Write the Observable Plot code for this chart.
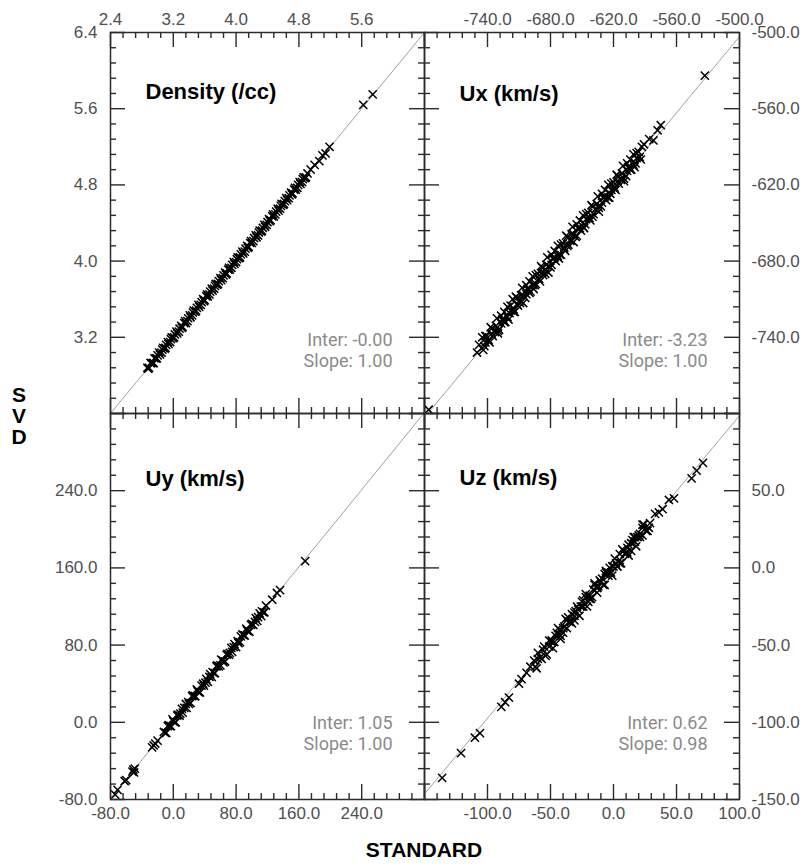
<!DOCTYPE html>
<html>
<head>
<meta charset="utf-8">
<script src="https://cdn.jsdelivr.net/npm/d3@7"></script>
<script src="https://cdn.jsdelivr.net/npm/@observablehq/plot@0.6"></script>
<style>
  body { margin: 0; background: #fff; }
  #wrap { position: relative; width: 804px; height: 865px; overflow: hidden; background: #fff;
          font-family: "Liberation Sans", Arial, Helvetica, sans-serif; }
  #wrap svg { position: absolute; background: transparent !important; overflow: visible; }
  #svd { position: absolute; left: 7px; top: 384px; width: 24px; text-align: center;
         font-weight: bold; font-size: 21px; line-height: 21px; color: #000; }
  #std { position: absolute; left: 324px; top: 839px; width: 200px; text-align: center;
         font-weight: bold; font-size: 21px; line-height: 22px; color: #000; }
</style>
</head>
<body>
<div id="wrap">
  <div id="svd">S<br>V<br>D</div>
  <div id="std">STANDARD</div>
</div>
<script>
// ---------- tick values per panel ----------
const densTicks = [2.4, 3.2, 4.0, 4.8, 5.6, 6.4];
const uxTicks   = [-800, -740, -680, -620, -560, -500];
const uyTicks   = [-80, 0, 80, 160, 240, 320];
const uzTicks   = [-150, -100, -50, 0, 50, 100];

// ---------- panel annotations ----------
const titles = ["Density (/cc)", "Ux (km/s)", "Uy (km/s)", "Uz (km/s)"];
const intercepts = [-0.00, -3.23, 1.05, 0.62];
const slopes = [1.00, 1.00, 1.00, 0.98];
const interLabels = ["Inter: -0.00", "Inter: -3.23", "Inter: 1.05", "Inter: 0.62"];
const slopeLabels = ["Slope: 1.00", "Slope: 1.00", "Slope: 1.00", "Slope: 0.98"];

// ---------- Density: STANDARD vs SVD ----------
const densStd = [
  2.87, 2.89, 2.92, 2.95, 2.98, 3.00, 3.03, 3.06, 3.09, 3.11,
  3.14, 3.17, 3.20, 3.22, 3.25, 3.28, 3.31, 3.34, 3.36, 3.39,
  3.42, 3.45, 3.48, 3.50, 3.53, 3.56, 3.59, 3.62, 3.64, 3.67,
  3.70, 3.73, 3.76, 3.78, 3.81, 3.84, 3.87, 3.90, 3.92, 3.95,
  3.98, 4.01, 4.04, 4.06, 4.09, 4.12, 4.15, 4.18, 4.20, 4.23,
  4.26, 4.29, 4.32, 4.34, 4.37, 4.40, 4.43, 4.46, 4.48, 4.51,
  4.54, 4.57, 4.60, 4.62, 4.65, 4.68, 4.71, 4.74, 4.76, 4.79,
  4.82, 4.85, 4.88, 4.91,
  4.95, 5.00, 5.06, 5.10, 5.14, 5.19, 5.62, 5.74];
const densSvd = [
  2.88, 2.88, 2.93, 2.93, 2.98, 3.01, 3.02, 3.07, 3.08, 3.12,
  3.13, 3.18, 3.19, 3.23, 3.24, 3.29, 3.30, 3.35, 3.35, 3.40,
  3.41, 3.46, 3.47, 3.51, 3.52, 3.57, 3.58, 3.63, 3.63, 3.68,
  3.69, 3.74, 3.75, 3.79, 3.80, 3.85, 3.86, 3.91, 3.91, 3.96,
  3.97, 4.02, 4.03, 4.07, 4.08, 4.13, 4.14, 4.19, 4.19, 4.24,
  4.25, 4.30, 4.31, 4.35, 4.36, 4.41, 4.42, 4.47, 4.47, 4.52,
  4.53, 4.58, 4.59, 4.63, 4.64, 4.69, 4.70, 4.75, 4.75, 4.80,
  4.81, 4.86, 4.87, 4.92,
  4.96, 5.01, 5.05, 5.11, 5.13, 5.20, 5.64, 5.75];
const densStd2 = [
  2.88, 2.91, 2.94, 2.96, 2.99, 3.02, 3.05, 3.07, 3.10, 3.13,
  3.16, 3.18, 3.21, 3.24, 3.27, 3.30, 3.32, 3.35, 3.38, 3.41,
  3.44, 3.46, 3.49, 3.52, 3.55, 3.58, 3.60, 3.63, 3.66, 3.69,
  3.72, 3.74, 3.77, 3.80, 3.83, 3.86, 3.88, 3.91, 3.94, 3.97,
  4.00, 4.02, 4.05, 4.08, 4.11, 4.14, 4.16, 4.19, 4.22, 4.25,
  4.28, 4.30, 4.33, 4.36, 4.39, 4.42, 4.44, 4.47, 4.50, 4.53,
  4.56, 4.58, 4.61, 4.64, 4.67, 4.70, 4.72, 4.75, 4.78, 4.81,
  4.84, 4.86, 4.89];
const densSvd2 = [
  2.87, 2.93, 2.93, 2.98, 2.98, 3.04, 3.04, 3.09, 3.09, 3.15,
  3.15, 3.20, 3.20, 3.26, 3.26, 3.32, 3.31, 3.37, 3.37, 3.43,
  3.43, 3.48, 3.48, 3.54, 3.54, 3.60, 3.59, 3.65, 3.65, 3.71,
  3.71, 3.76, 3.76, 3.82, 3.82, 3.88, 3.87, 3.93, 3.93, 3.99,
  3.99, 4.04, 4.04, 4.10, 4.10, 4.16, 4.15, 4.21, 4.21, 4.27,
  4.27, 4.32, 4.32, 4.38, 4.38, 4.44, 4.43, 4.49, 4.49, 4.55,
  4.55, 4.60, 4.60, 4.66, 4.66, 4.72, 4.71, 4.77, 4.77, 4.83,
  4.83, 4.88, 4.88];

// ---------- Ux ----------
const uxStd = [
  -745, -743, -741, -738, -736, -733, -731, -729, -726, -724,
  -721, -719, -716, -714, -712, -709, -707, -704, -702, -700,
  -697, -695, -692, -690, -688, -685, -683, -680, -678, -676,
  -673, -671, -668, -666, -664, -661, -659, -656, -654, -652,
  -649, -647, -644, -642, -640, -637, -635, -632, -630, -628,
  -625, -623, -620, -618, -616, -613, -611, -608, -606, -604,
  -601, -599, -596, -594, -591,
  -796, -750, -748, -586, -582, -578, -575, -533];
const uxSvd = [
  -740, -747, -739, -744, -733, -735, -725, -734, -726, -720,
  -716, -721, -710, -720, -709, -711, -701, -709, -702, -696,
  -692, -699, -690, -696, -685, -687, -677, -685, -678, -672,
  -668, -675, -666, -672, -661, -663, -653, -661, -654, -648,
  -644, -651, -642, -648, -637, -639, -629, -637, -630, -624,
  -620, -627, -618, -624, -613, -615, -605, -613, -606, -600,
  -596, -603, -594, -600, -588,
  -797, -752, -746, -584, -585, -577, -573, -534];
const uxStd2 = [
  -744, -742, -739, -737, -735, -732, -730, -727, -725, -723,
  -720, -718, -715, -713, -711, -708, -706, -703, -701, -699,
  -696, -694, -691, -689, -687, -684, -682, -679, -677, -675,
  -672, -670, -667, -665, -663, -660, -658, -655, -653, -651,
  -648, -646, -643, -641, -639, -636, -634, -631, -629, -627,
  -624, -622, -619, -617, -615, -612, -610, -607, -605, -603,
  -600, -598, -595, -593];
const uxSvd2 = [
  -750, -739, -742, -732, -739, -731, -737, -723, -726, -728,
  -726, -715, -718, -708, -715, -707, -713, -699, -702, -704,
  -702, -691, -694, -684, -691, -683, -689, -675, -678, -680,
  -678, -667, -670, -660, -667, -659, -665, -651, -654, -656,
  -654, -643, -646, -636, -643, -635, -641, -627, -630, -632,
  -630, -619, -622, -612, -619, -611, -617, -603, -606, -608,
  -606, -595, -598, -590];
const uxStd3 = [
  -742, -739, -736, -733, -730, -727, -724, -721, -718, -715,
  -712, -709, -706, -703, -700, -697, -694, -691, -688, -685,
  -682, -679, -676, -673, -670, -667, -664, -661, -658, -655,
  -652, -649, -646, -643, -640, -637, -634, -631, -628, -625,
  -622, -619, -616, -613, -610, -607, -604, -601, -598];
const uxSvd3 = [
  -744, -743, -737, -736, -735, -729, -728, -724, -719, -720,
  -714, -713, -707, -706, -705, -699, -698, -694, -689, -690,
  -684, -683, -677, -676, -675, -669, -668, -664, -659, -660,
  -654, -653, -647, -646, -645, -639, -638, -634, -629, -630,
  -624, -623, -617, -616, -615, -609, -608, -604, -599];

// ---------- Uy ----------
const uyStd = [
  -12, -9, -6, -3, 0, 3, 6, 9, 12, 16,
  19, 22, 25, 28, 31, 34, 38, 41, 44, 47,
  50, 53, 56, 60, 63, 66, 69, 72, 75, 78,
  82, 85, 88, 91, 94, 97, 100, 104, 107, 110,
  113, 116, 118,
  -74, -71, -62, -60, -52, -51, -50, -49, -27, -25, -23, -20, 126, 132, 136, 168];
const uySvd = [
  -10, -11, -3, -4, 1, 0, 8, 9, 10, 19,
  21, 20, 28, 27, 32, 31, 40, 41, 42, 50,
  52, 51, 59, 59, 64, 63, 71, 72, 73, 81,
  84, 83, 91, 90, 95, 94, 102, 104, 105, 113,
  115, 114, 121,
  -75, -70, -61, -60, -51, -49, -52, -48, -26, -24, -22, -19, 127, 134, 137, 167];
const uyStd2 = [
  -10, -7, -4, -1, 2, 5, 8, 11, 14, 17,
  20, 24, 27, 30, 33, 36, 39, 42, 46, 49,
  52, 55, 58, 61, 64, 68, 71, 74, 77, 80,
  83, 86, 90, 93, 96, 99, 102, 105, 108, 112,
  115];
const uySvd2 = [
  -11, -4, -4, 3, 0, 7, 7, 14, 15, 15,
  19, 27, 27, 34, 31, 38, 38, 45, 47, 47,
  51, 58, 58, 65, 62, 70, 70, 77, 78, 78,
  82, 89, 90, 97, 94, 101, 101, 108, 109, 110,
  114];

// ---------- Uz ----------
const uzStd = [
  -63, -61, -60, -57, -55, -54, -51, -49, -48, -45,
  -43, -42, -39, -37, -36, -33, -31, -30, -27, -25,
  -24, -21, -19, -18, -15, -13, -12, -9, -7, -6,
  -3, -1, 0, 3, 5, 6, 9, 11, 12, 15,
  17, 18, 21, 23, 24, 27, 29,
  -136, -121, -110, -106, -89, -86, -83, -75, -73, -69, -66,
  33, 36, 39, 44, 48, 62, 66, 71];
const uzSvd = [
  -60, -65, -59, -59, -51, -57, -51, -47, -52, -42,
  -40, -46, -38, -39, -32, -36, -31, -28, -31, -22,
  -21, -25, -18, -20, -11, -16, -12, -7, -11, -3,
  0, -5, 1, 1, 9, 3, 9, 13, 8, 18,
  20, 14, 22, 21, 28, 24, 29,
  -136, -120, -110, -107, -90, -87, -84, -75, -72, -68, -64,
  35, 36, 38, 44, 45, 58, 63, 68];
const uzStd2 = [
  -62, -60, -58, -56, -53, -51, -49, -47, -44, -42,
  -40, -38, -35, -33, -31, -29, -26, -24, -22, -20,
  -17, -15, -13, -11, -8, -6, -4, -2, 1, 3,
  5, 7, 10, 12, 14, 16, 19, 21, 23, 26,
  28];
const uzSvd2 = [
  -64, -55, -58, -53, -56, -47, -48, -48, -39, -44,
  -42, -33, -35, -30, -34, -25, -25, -25, -17, -22,
  -19, -10, -13, -8, -11, -2, -3, -3, 6, 1,
  3, 12, 10, 15, 11, 20, 20, 20, 28, 24,
  26];
const uzStd3 = [
  -46, -43, -40, -37, -34, -31, -28, -25, -22, -19,
  -16, -13, -10, -7, -4, -1, 2, 5, 8, 11,
  14, 17, 20, 23];
const uzSvd3 = [
  -44, -43, -39, -34, -35, -29, -27, -25, -19, -20,
  -14, -13, -9, -4, -5, 1, 3, 5, 11, 10,
  16, 17, 21, 26];

const LABEL_FONT = '"Liberation Sans", Arial, Helvetica, sans-serif';
const STAT_FONT = 'Roboto, "Open Sans", "DejaVu Sans", sans-serif';
const INK = "#2b2b2b";

function pairs(a, b) {
  const n = Math.min(a.length, b.length);
  return d3.range(n).map(k => ({s: a[k], v: b[k]}));
}

function panel(cfg) {
  const {i, pts, ticks, top, bottom, left, right, box, m} = cfg;
  const domain = [ticks[0], ticks[ticks.length - 1]];
  const minors = [];
  for (let k = 0; k < ticks.length - 1; k++) {
    const step = (ticks[k + 1] - ticks[k]) / 5;
    for (let j = 1; j < 5; j++) minors.push(ticks[k] + j * step);
  }
  const iw = box.w - m.l - m.r, ih = box.h - m.t - m.b;
  const fit = [{x1: domain[0], y1: intercepts[i] + slopes[i] * domain[0],
                x2: domain[1], y2: intercepts[i] + slopes[i] * domain[1]}];
  const tickStyle = {stroke: INK, strokeWidth: 1.4};
  const lab = {fontSize: 17, fill: "#505050", fontFamily: LABEL_FONT, text: d => d.toFixed(1)};
  const marks = [
    Plot.link(fit, {x1: "x1", y1: "y1", x2: "x2", y2: "y2", stroke: "#a0a0a0", strokeWidth: 1, clip: true}),
    Plot.dot(pts, {x: "s", y: "v", symbol: "times", r: 3.8, stroke: "#000", strokeWidth: 1.5}),
    Plot.tickX(ticks, {x: d => d, insetBottom: ih - 15, ...tickStyle}),
    Plot.tickX(ticks, {x: d => d, insetTop: ih - 15, ...tickStyle}),
    Plot.tickX(minors, {x: d => d, insetBottom: ih - 6, ...tickStyle}),
    Plot.tickX(minors, {x: d => d, insetTop: ih - 6, ...tickStyle}),
    Plot.tickY(ticks, {y: d => d, insetRight: iw - 15, ...tickStyle}),
    Plot.tickY(ticks, {y: d => d, insetLeft: iw - 15, ...tickStyle}),
    Plot.tickY(minors, {y: d => d, insetRight: iw - 6, ...tickStyle}),
    Plot.tickY(minors, {y: d => d, insetLeft: iw - 6, ...tickStyle}),
    Plot.frame({stroke: INK, strokeWidth: 1.5}),
    Plot.text([titles[i]], {frameAnchor: "top-left", dx: 35, dy: cfg.titleDy, textAnchor: "start",
      fontSize: 22, fontWeight: "bold", fill: "#000", fontFamily: LABEL_FONT}),
    Plot.text([interLabels[i]], {frameAnchor: "bottom-right", dx: -32, dy: cfg.statDy, textAnchor: "end",
      fontSize: 18, fill: "#8a8a8a", fontFamily: STAT_FONT}),
    Plot.text([slopeLabels[i]], {frameAnchor: "bottom-right", dx: -32, dy: cfg.statDy + 21, textAnchor: "end",
      fontSize: 18, fill: "#8a8a8a", fontFamily: STAT_FONT})
  ];
  if (top) marks.push(Plot.text(top, {x: d => d, frameAnchor: "top", dy: -20, textAnchor: "middle", ...lab}));
  if (bottom) marks.push(Plot.text(bottom, {x: d => d, frameAnchor: "bottom", dy: 19, textAnchor: "middle", ...lab}));
  if (left) marks.push(Plot.text(left, {y: d => d, frameAnchor: "left", dx: -13, textAnchor: "end", ...lab}));
  if (right) marks.push(Plot.text(right, {y: d => d, frameAnchor: "right", dx: 12, textAnchor: "start", ...lab}));

  const svg = Plot.plot({
    width: box.w, height: box.h,
    marginLeft: m.l, marginRight: m.r, marginTop: m.t, marginBottom: m.b,
    x: {domain, axis: null},
    y: {domain, axis: null},
    style: {background: "transparent", fontFamily: LABEL_FONT, overflow: "visible"},
    marks
  });
  svg.style.left = box.x + "px";
  svg.style.top = box.y + "px";
  svg.style.background = "transparent";
  svg.style.maxWidth = "none";
  document.getElementById("wrap").appendChild(svg);
}

panel({i: 0, pts: pairs(densStd, densSvd).concat(pairs(densStd2, densSvd2)), ticks: densTicks,
  top: densTicks.slice(0, 5), left: densTicks.slice(1),
  box: {x: 0, y: 0, w: 430, h: 420}, m: {l: 110, r: 6, t: 32, b: 7}, titleDy: 51, statDy: -68});
panel({i: 1, pts: pairs(uxStd, uxSvd).concat(pairs(uxStd2, uxSvd2), pairs(uxStd3, uxSvd3)), ticks: uxTicks,
  top: uxTicks.slice(1), right: uxTicks.slice(1),
  box: {x: 418, y: 0, w: 386, h: 420}, m: {l: 6, r: 65, t: 32, b: 7}, titleDy: 53, statDy: -68});
panel({i: 2, pts: pairs(uyStd, uySvd).concat(pairs(uyStd2, uySvd2)), ticks: uyTicks,
  left: uyTicks.slice(0, 5), bottom: uyTicks.slice(0, 5),
  box: {x: 0, y: 407, w: 430, h: 458}, m: {l: 110, r: 6, t: 6, b: 66}, titleDy: 57, statDy: -71});
panel({i: 3, pts: pairs(uzStd, uzSvd).concat(pairs(uzStd2, uzSvd2), pairs(uzStd3, uzSvd3)), ticks: uzTicks,
  bottom: uzTicks.slice(1), right: uzTicks.slice(0, 5),
  box: {x: 418, y: 407, w: 386, h: 458}, m: {l: 6, r: 65, t: 6, b: 66}, titleDy: 56, statDy: -71});
</script>
</body>
</html>
